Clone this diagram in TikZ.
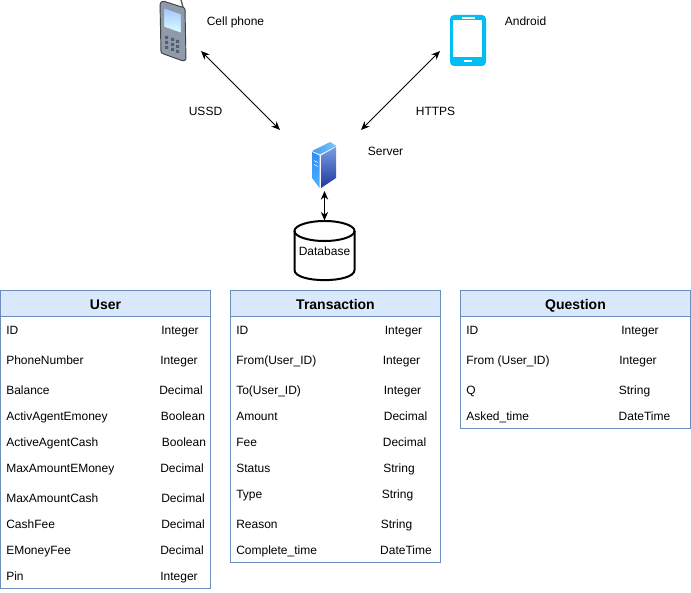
\documentclass[tikz,border=0pt]{standalone}
\usepackage{fontspec}
\setmainfont{Liberation Sans}
\usetikzlibrary{arrows.meta}
\definecolor{headfill}{HTML}{DAE8FC}
\definecolor{headline}{HTML}{6C8EBF}
\definecolor{phonecyan}{HTML}{00BEF2}
\definecolor{phonebody}{HTML}{8F9AAA}
\definecolor{phonekey}{HTML}{56606C}
\definecolor{serverlefttop}{HTML}{2F8DF2}
\definecolor{serverleftend}{HTML}{4FB0FF}
\definecolor{serverrighttop}{HTML}{7C9BE0}
\definecolor{serverrightend}{HTML}{1C3A9E}
\definecolor{servercapleft}{HTML}{3F9CF0}
\definecolor{servercapright}{HTML}{7CC8F8}
\tikzset{
  rowtext/.style={font=\fontsize{9}{11}\selectfont,inner sep=0pt,text height=8pt,text depth=1.6pt},
  fieldtext/.style={rowtext,anchor=west},
  titletext/.style={font=\fontsize{10.5}{12}\selectfont\bfseries,inner sep=0pt,text height=9.7pt,text depth=1.6pt},
  biarrow/.style={<->,>={Stealth[length=6.5pt,width=5.5pt]},line width=0.75pt}
}
\begin{document}
\begin{tikzpicture}[x=0.75pt,y=0.75pt,yscale=-1]
\useasboundingbox (0,0) rectangle (691,592);

%Shape: Cell phone
\draw [line width=1pt,color=black!65] (181,0) -- (183,7);
\draw [fill=phonebody,draw=black!75,line width=0.7pt,rounded corners=1pt] (160,3) -- (163,1) -- (185,8) -- (186,60) -- (183,61) -- (161,53) -- cycle;
\shade [top color=cyan!35!blue!35,bottom color=cyan!15,draw=black!45,line width=0.3pt] (164,8) -- (181,14) -- (181,33) -- (164,27) -- cycle;
\fill [phonekey] (165,36) rectangle (168,39) (171,38) rectangle (174,41) (176,40) rectangle (179,43)
  (165,41) rectangle (168,44) (171,43) rectangle (174,46) (176,45) rectangle (179,48)
  (165,46) rectangle (168,49) (171,48) rectangle (174,51) (176,50) rectangle (179,53);

%Shape: Android phone
\draw [fill=phonecyan,draw=none,rounded corners=3pt] (450,15) rectangle (486,66);
\fill [white] (453,20) rectangle (482,57);
\fill [white] (462,17.5) rectangle (475,19);
\fill [white] (464,60) rectangle (472,62);

%Shape: Server
\shade [top color=serverlefttop,bottom color=serverleftend] (312,152) -- (319.5,155.5) -- (319.5,188) -- (312,178) -- cycle;
\shade [top color=serverrighttop,bottom color=serverrightend] (321,155.5) -- (336,147) -- (336,178) -- (321,188) -- cycle;
\shade [left color=servercapleft,right color=servercapright] (312,151) -- (330,142) -- (336.5,146) -- (320,154.5) -- cycle;
\draw [white,line width=0.4pt] (314,160.5) -- (318,162.5) (314,164.5) -- (318,166.5);

%Shape: Database
\draw [line width=1.5pt] (324.5,231) ellipse [x radius=30,y radius=10];
\draw [line width=1.5pt] (294.5,231) -- (294.5,270) .. controls (294.5,283.5) and (354.5,283.5) .. (354.5,270) -- (354.5,231);
% Text Node
\draw (324.5,251) node [rowtext] (databaseLabel) {Database};

%Anchors of the arrows
\coordinate (phoneEnd) at (201,51);
\coordinate (androidEnd) at (440,51);
\coordinate (serverLeft) at (280,130);
\coordinate (serverRight) at (361,130);
\coordinate (serverBottom) at (324.5,191);
\coordinate (databaseTop) at (324.5,220.5);

\draw [biarrow] (phoneEnd) -- (serverLeft);
\draw [biarrow] (androidEnd) -- (serverRight);
\draw [biarrow] (serverBottom) -- (databaseTop);

% Text Node
\draw (235.5,21) node [rowtext] (cellLabel) {Cell phone};
% Text Node
\draw (525.5,21) node [rowtext] (androidLabel) {Android};
% Text Node
\draw (205.5,111) node [rowtext] (ussdLabel) {USSD};
% Text Node
\draw (435.5,111) node [rowtext] (httpsLabel) {HTTPS};
% Text Node
\draw (385.5,151) node [rowtext] (serverLabel) {Server};

%Shape: User table
\draw [fill=headfill,draw=headline,line width=0.75pt] (0.5,290.5) rectangle (210.5,316.5);
\draw [fill=white,draw=headline,line width=0.75pt] (0.5,316.5) rectangle (210.5,588.5);
%Shape: Transaction table
\draw [fill=headfill,draw=headline,line width=0.75pt] (230.5,290.5) rectangle (440.5,316.5);
\draw [fill=white,draw=headline,line width=0.75pt] (230.5,316.5) rectangle (440.5,562.5);
%Shape: Question table
\draw [fill=headfill,draw=headline,line width=0.75pt] (460.5,290.5) rectangle (690.5,316.5);
\draw [fill=white,draw=headline,line width=0.75pt] (460.5,316.5) rectangle (690.5,428.5);

% Text Node
\draw (105.5,304) node [titletext] (userTitle) {User};
\draw (335.5,304) node [titletext] (transTitle) {Transaction};
\draw (575.5,304) node [titletext] (questTitle) {Question};

% User rows
\draw (6,330) node [fieldtext] (userIdName) {ID};
\draw (180,330) node [rowtext] (userIdType) {Integer};
\draw (6,360) node [fieldtext] (userPhoneName) {PhoneNumber};
\draw (179,360) node [rowtext] (userPhoneType) {Integer};
\draw (6,390) node [fieldtext] (userBalanceName) {Balance};
\draw (181,390) node [rowtext] (userBalanceType) {Decimal};
\draw (6,416) node [fieldtext] (userEmoneyName) {ActivAgentEmoney};
\draw (183,416) node [rowtext] (userEmoneyType) {Boolean};
\draw (6,442) node [fieldtext] (userCashName) {ActiveAgentCash};
\draw (184,442) node [rowtext] (userCashType) {Boolean};
\draw (6,468) node [fieldtext] (userMaxEName) {MaxAmountEMoney};
\draw (182,468) node [rowtext] (userMaxEType) {Decimal};
\draw (6,498) node [fieldtext] (userMaxCName) {MaxAmountCash};
\draw (183,498) node [rowtext] (userMaxCType) {Decimal};
\draw (6,524) node [fieldtext] (userCashFeeName) {CashFee};
\draw (183,524) node [rowtext] (userCashFeeType) {Decimal};
\draw (6,550) node [fieldtext] (userEFeeName) {EMoneyFee};
\draw (182,550) node [rowtext] (userEFeeType) {Decimal};
\draw (6,576) node [fieldtext] (userPinName) {Pin};
\draw (179,576) node [rowtext] (userPinType) {Integer};

% Transaction rows
\draw (236,330) node [fieldtext] (transIdName) {ID};
\draw (403.5,330) node [rowtext] (transIdType) {Integer};
\draw (236,360) node [fieldtext] (transFromName) {From(User\_ID)};
\draw (401.5,360) node [rowtext] (transFromType) {Integer};
\draw (236,390) node [fieldtext] (transToName) {To(User\_ID)};
\draw (402.5,390) node [rowtext] (transToType) {Integer};
\draw (236,416) node [fieldtext] (transAmountName) {Amount};
\draw (405.5,416) node [rowtext] (transAmountType) {Decimal};
\draw (236,442) node [fieldtext] (transFeeName) {Fee};
\draw (404.5,442) node [rowtext] (transFeeType) {Decimal};
\draw (236,468) node [fieldtext] (transStatusName) {Status};
\draw (399,468) node [rowtext] (transStatusType) {String};
\draw (236,494) node [fieldtext] (transTypeName) {Type};
\draw (397.5,494) node [rowtext] (transTypeType) {String};
\draw (236,524) node [fieldtext] (transReasonName) {Reason};
\draw (396.5,524) node [rowtext] (transReasonType) {String};
\draw (236,550) node [fieldtext] (transTimeName) {Complete\_time};
\draw (406,550) node [rowtext] (transTimeType) {DateTime};

% Question rows
\draw (466,330) node [fieldtext] (questIdName) {ID};
\draw (640,330) node [rowtext] (questIdType) {Integer};
\draw (466,360) node [fieldtext] (questFromName) {From (User\_ID)};
\draw (638,360) node [rowtext] (questFromType) {Integer};
\draw (466,390) node [fieldtext] (questQName) {Q};
\draw (634.5,390) node [rowtext] (questQType) {String};
\draw (466,416) node [fieldtext] (questTimeName) {Asked\_time};
\draw (644.5,416) node [rowtext] (questTimeType) {DateTime};

\end{tikzpicture}
\end{document}
